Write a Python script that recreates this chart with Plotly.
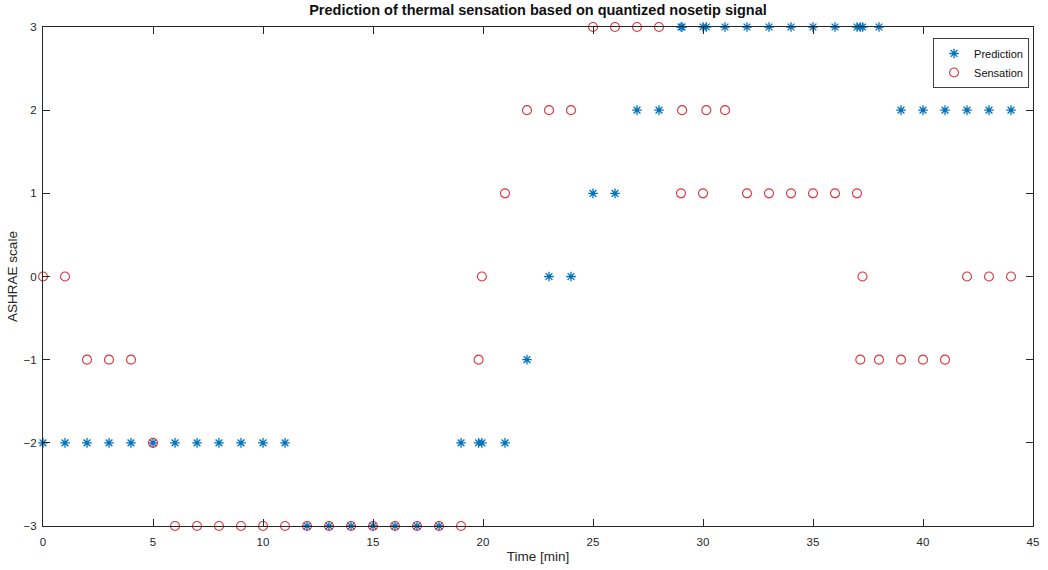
import plotly.graph_objects as go

# Time stamps [min] and the quantized thermal sensation values
time_min = [0, 1, 2, 3, 4, 5, 6, 7, 8, 9, 10, 11, 12, 13, 14, 15, 16, 17, 18,
            19, 19.8, 19.95, 21, 22, 23, 24, 25, 26, 27, 28,
            29, 29.05, 30, 30.15, 31, 32, 33, 34, 35, 36,
            37, 37.15, 37.25, 38, 39, 40, 41, 42, 43, 44]
prediction = [-2, -2, -2, -2, -2, -2, -2, -2, -2, -2, -2, -2, -3, -3, -3, -3, -3, -3, -3,
              -2, -2, -2, -2, -1, 0, 0, 1, 1, 2, 2,
              3, 3, 3, 3, 3, 3, 3, 3, 3, 3,
              3, 3, 3, 3, 2, 2, 2, 2, 2, 2]
sensation = [0, 0, -1, -1, -1, -2, -3, -3, -3, -3, -3, -3, -3, -3, -3, -3, -3, -3, -3,
             -3, -1, 0, 1, 2, 2, 2, 3, 3, 3, 3,
             1, 2, 1, 2, 2, 1, 1, 1, 1, 1,
             1, -1, 0, -1, -1, -1, -1, 0, 0, 0]

x_ticks = [0, 5, 10, 15, 20, 25, 30, 35, 40, 45]
y_ticks = [-3, -2, -1, 0, 1, 2, 3]

AX = "#262626"
FONT = "Liberation Sans, Arial, sans-serif"

fig = go.Figure()
fig.add_trace(go.Scatter(
    x=time_min, y=prediction, mode="markers", name="Prediction",
    marker=dict(symbol="asterisk-open", size=8, color="#0072BD",
                line=dict(color="#0072BD", width=1.3)),
    cliponaxis=False,
))
fig.add_trace(go.Scatter(
    x=time_min, y=sensation, mode="markers", name="Sensation",
    marker=dict(symbol="circle-open", size=9, color="#D9363E",
                line=dict(color="#D9363E", width=1.1)),
    cliponaxis=False,
))

axis_common = dict(
    showline=True, linecolor=AX, linewidth=1, mirror="ticks",
    ticks="inside", ticklen=7, tickwidth=1, tickcolor=AX,
    showgrid=False, zeroline=False,
    tickfont=dict(family=FONT, size=11.5, color=AX),
)

fig.update_layout(
    width=1048, height=570,
    margin=dict(l=43, r=9, t=27, b=43),
    paper_bgcolor="white", plot_bgcolor="white",
    font=dict(family=FONT, color=AX),
    title=dict(
        text="<b>Prediction of thermal sensation based on quantized nosetip signal</b>",
        x=0.5, xref="paper", xanchor="center",
        y=1 - 10 / 570, yref="container", yanchor="middle",
        font=dict(family=FONT, size=14.5, color="#111111"),
    ),
    xaxis=dict(range=[0, 45], tickvals=x_ticks, ticklabelstandoff=5,
               title=dict(text="Time [min]", font=dict(family=FONT, size=13.5, color=AX), standoff=4),
               **axis_common),
    yaxis=dict(range=[-3, 3], tickvals=y_ticks, ticklabelstandoff=3,
               title=dict(text="ASHRAE scale", font=dict(family=FONT, size=13.5, color=AX), standoff=2),
               **axis_common),
    legend=dict(
        x=0.996, y=0.978, xanchor="right", yanchor="top",
        bordercolor="#404040", borderwidth=1, bgcolor="white",
        font=dict(family=FONT, size=11, color="#111111"),
        tracegroupgap=0, itemwidth=30,
    ),
    showlegend=True,
)

fig.write_html("out.html")
